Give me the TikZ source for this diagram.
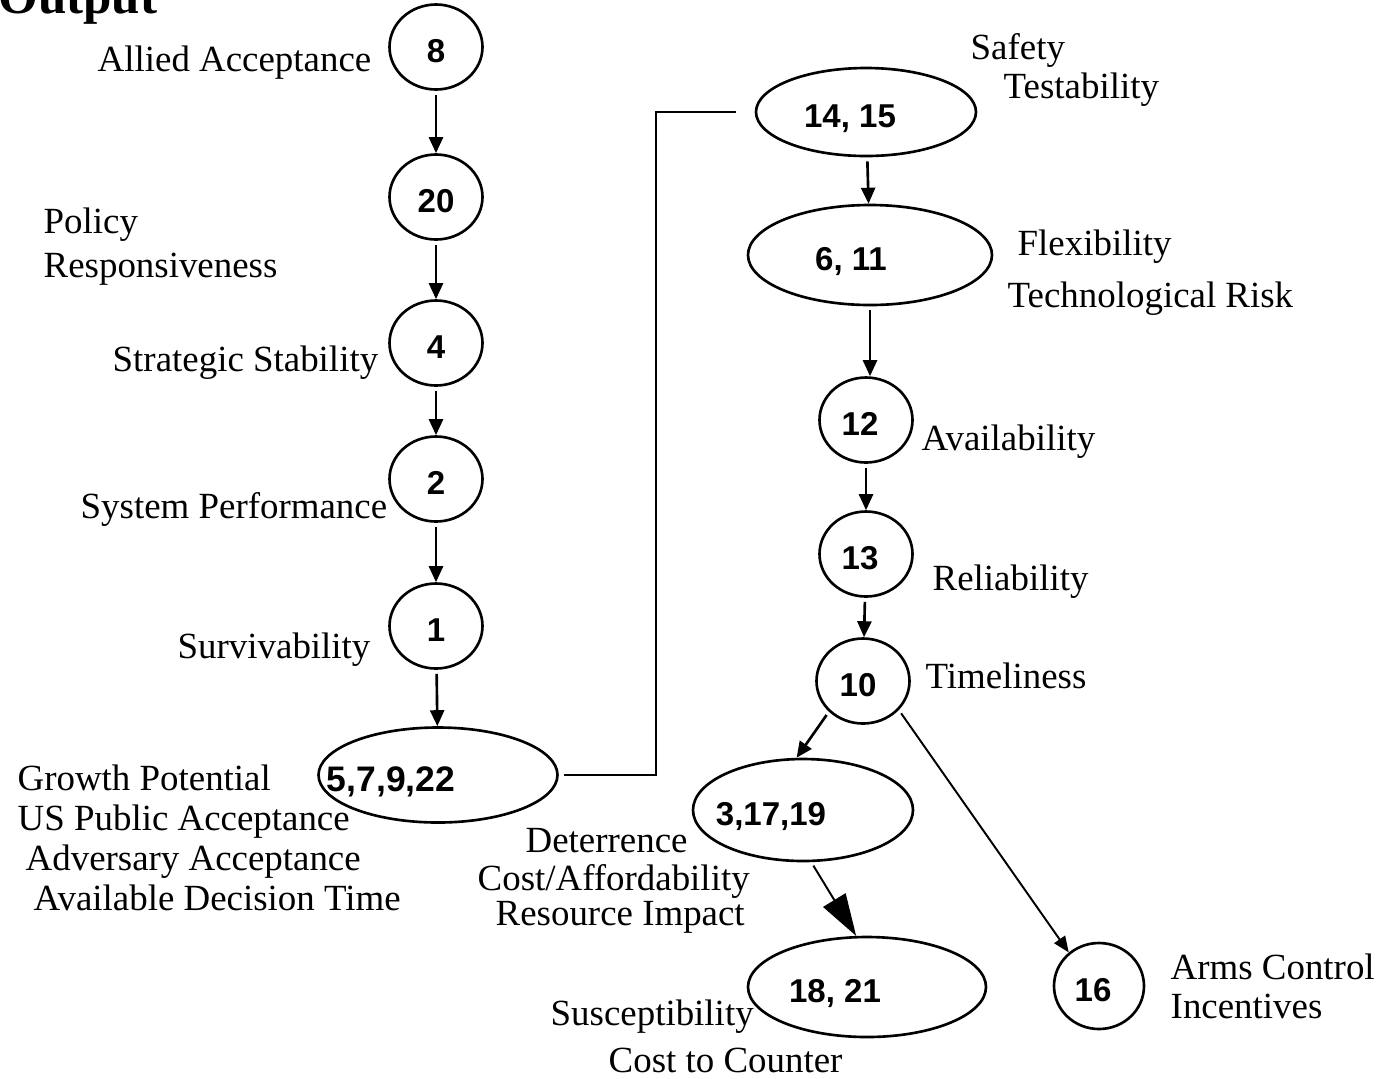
\documentclass[tikz,border=0pt]{standalone}
\usepackage{fontspec}
\setmainfont{Liberation Serif}
\newfontfamily\numfont{Liberation Sans}
\usetikzlibrary{shapes.geometric,arrows.meta}

\tikzset{
  lbl/.style={anchor=base west, inner sep=0pt, font=\fontsize{10.5}{12}\selectfont},
  bubble/.style={draw, ellipse, line width=0.75pt, inner sep=0pt,
                 text height=3.1mm, text depth=0mm,
                 font=\numfont\bfseries\fontsize{9.4}{11}\selectfont},
  dot/.style={bubble, minimum width=9.3mm, minimum height=8.5mm},
  flow/.style={line width=0.75pt, shorten <=0.4mm,
               -{Triangle[length=1.6mm,width=1.4mm]}},
  thinflow/.style={line width=0.55pt, shorten <=0.4mm,
               -{Triangle[length=1.6mm,width=1.3mm]}},
  bigflow/.style={line width=0.55pt, shorten <=0.4mm,
               -{Triangle[length=4.2mm,width=2.6mm]}}
}

\begin{document}
\begin{tikzpicture}[x=0.1mm, y=-0.1mm]
\useasboundingbox (0,0) rectangle (1393,1078);

% heading
\node[anchor=base west, inner sep=0pt, font=\bfseries\fontsize{14.5}{16}\selectfont] (title) at (-2,13) {Output};

% left column
\node[dot] (n8)  at (436,47)  {8};
\node[dot] (n20) at (436,197) {20};
\node[dot] (n4)  at (436,343) {4};
\node[dot] (n2)  at (436,479) {2};
\node[dot] (n1)  at (436,626) {1};
\node[bubble, minimum width=23.9mm, minimum height=9.5mm,
      font=\numfont\bfseries\fontsize{10.1}{12}\selectfont, text height=3.3mm] (n5) at (438,775)
  {\hspace*{-4.7mm}5,7,9,22\hspace*{4.7mm}};

% right column
\node[bubble, minimum width=22mm, minimum height=8.8mm] (n14) at (866,112)
  {\hspace*{-1.6mm}14, 15\hspace*{1.6mm}};
\node[bubble, minimum width=24.4mm, minimum height=10mm] (n6) at (870,255)
  {\hspace*{-1.9mm}6, 11\hspace*{1.9mm}};
\node[dot] (n12) at (866,420) {\hspace*{-0.6mm}12\hspace*{0.6mm}};
\node[dot] (n13) at (866,554) {\hspace*{-0.6mm}13\hspace*{0.6mm}};
\node[dot] (n10) at (863,681) {\hspace*{-0.5mm}10\hspace*{0.5mm}};
\node[bubble, minimum width=22mm, minimum height=10.2mm] (n3) at (803,810)
  {\hspace*{-3.2mm}3,17,19\hspace*{3.2mm}};
\node[bubble, minimum width=23.8mm, minimum height=10mm] (n18) at (867,987)
  {\hspace*{-3.2mm}18, 21\hspace*{3.2mm}};
\node[bubble, minimum width=9mm, minimum height=8.6mm] (n16) at (1099,986)
  {\hspace*{-0.6mm}16\hspace*{0.6mm}};

% connectors
\draw[flow] (n8)  -- (n20);
\draw[flow] (n20) -- (n4);
\draw[flow] (n4)  -- (n2);
\draw[flow] (n2)  -- (n1);
\draw[flow] (n1)  -- (n5);
\coordinate (bend) at (656,112);
\draw[line width=0.75pt, shorten <=0.5mm, shorten >=1.9mm] (n5.east) -| (bend) -- (n14.west);
\draw[flow] (n14) -- (n6);
\draw[flow] (n6.south) -- (n6.south |- n12.north);
\draw[flow] (n12) -- (n13);
\draw[flow] (n13) -- (n10);
\draw[flow] (n10.222) -- (n3.97);
\draw[thinflow] (n10.-39) -- (n16.132);
\draw[bigflow] (n3.-81) -- (n18.102);

% labels
\node[lbl] (lAllied) at (97,71) {Allied Acceptance};
\node[lbl] (lPolicy) at (43,233) {Policy};
\node[lbl] (lResp) at (43,277) {Responsiveness};
\node[lbl] (lStrat) at (112,371) {Strategic Stability};
\node[lbl] (lSys) at (80,518) {System Performance};
\node[lbl] (lSurv) at (177,658) {Survivability};
\node[lbl] (lGrowth) at (17,790) {Growth Potential};
\node[lbl] (lUS) at (17,830) {US Public Acceptance};
\node[lbl] (lAdv) at (25,870) {Adversary Acceptance};
\node[lbl] (lAvail) at (33,910) {Available Decision Time};

\node[lbl] (lSafety) at (970,59) {Safety};
\node[lbl] (lTest) at (1003,98) {Testability};
\node[lbl] (lFlex) at (1017,255) {Flexibility};
\node[lbl] (lTech) at (1007,307) {Technological Risk};
\node[lbl] (lAvl) at (921,450) {Availability};
\node[lbl] (lRel) at (932,590) {Reliability};
\node[lbl] (lTime) at (925,688) {Timeliness};
\node[lbl] (lDet) at (525,852) {Deterrence};
\node[lbl] (lCost) at (477,890) {Cost/Affordability};
\node[lbl] (lRes) at (495,925) {Resource Impact};
\node[lbl] (lSusc) at (550,1025) {Susceptibility};
\node[lbl] (lCtc) at (608,1072) {Cost to Counter};
\node[lbl] (lArms) at (1170,979) {Arms Control};
\node[lbl] (lInc) at (1170,1018) {Incentives};
\end{tikzpicture}
\end{document}
